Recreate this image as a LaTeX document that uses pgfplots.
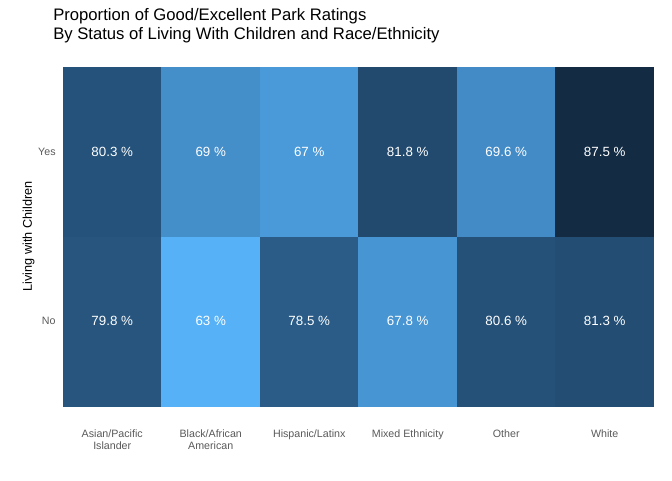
\documentclass[border=0pt]{standalone}
\usepackage{pgfplots}
\pgfplotsset{compat=1.18}
\usepackage{fontspec}
\setmainfont{Liberation Sans}
\begin{document}
\begin{tikzpicture}
\useasboundingbox (0,0) rectangle (504pt,360pt);
\node[anchor=north west,align=left,inner sep=0pt,font=\fontsize{12.5}{14.5}\selectfont] at (39.75pt,354pt) {Proportion of Good/Excellent Park Ratings\\By Status of Living With Children and Race/Ethnicity};
\begin{axis}[at={(47.25pt,55.5pt)},anchor=south west,
 scale only axis,width=443.25pt,height=254.25pt,
 xmin=-0.5,xmax=5.5,ymin=-0.5,ymax=1.5,enlargelimits=false,
 axis line style={draw=none},tick style={draw=none},
 xtick={0,...,5},ytick={0,1},yticklabels={No,Yes},
 xticklabels={Asian/Pacific\\Islander,Black/African\\American,Hispanic/Latinx,Mixed Ethnicity,Other,White},
 xticklabel style={align=center,font=\fontsize{8}{9}\selectfont,text=black!65,yshift=-14pt,anchor=north},
 yticklabel style={font=\fontsize{8}{9}\selectfont,text=black!65,xshift=-2pt},
 ylabel={Living with Children},ylabel style={font=\fontsize{9.5}{11}\selectfont,yshift=-4pt},
 colormap={gg}{rgb255=(86,177,247) rgb255=(62,130,186) rgb255=(40,88,130) rgb255=(19,43,67)},
 point meta min=63,point meta max=87.5,
 nodes near coords={\pgfmathprintnumber{\pgfplotspointmeta}~\%},
 nodes near coords style={anchor=center,text=white,font=\fontsize{10}{12}\selectfont},
 /pgf/number format/.cd,fixed,precision=1,assume math mode=true]
\addplot[matrix plot*,mesh/cols=6,point meta=explicit] table[meta=v]{
x y v
0 0 79.8
1 0 63
2 0 78.5
3 0 67.8
4 0 80.6
5 0 81.3
0 1 80.3
1 1 69
2 1 67
3 1 81.8
4 1 69.6
5 1 87.5
};
\end{axis}
\end{tikzpicture}
\end{document}
